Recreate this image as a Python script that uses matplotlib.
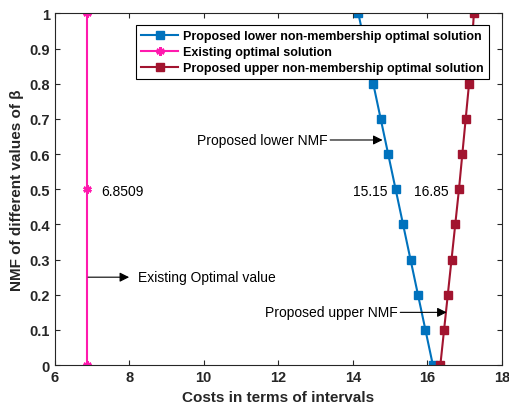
import numpy as np
import matplotlib
matplotlib.use("Agg")
import matplotlib.pyplot as plt

matplotlib.rcParams.update({'font.family': ['Liberation Sans', 'DejaVu Sans'], 'font.size': 10})

beta = [0, 0.1, 0.2, 0.3, 0.4, 0.5, 0.6, 0.7, 0.8, 0.9, 1.0]
lower_cost = [16.15, 15.95, 15.75, 15.55, 15.35, 15.15, 14.95, 14.75, 14.55, 14.35, 14.15]
upper_cost = [16.35, 16.45, 16.55, 16.65, 16.75, 16.85, 16.94, 17.03, 17.12, 17.19, 17.25]
exist_beta = [0, 0.5, 1.0]
exist_cost = [6.87, 6.87, 6.87]

labels = ["Proposed lower non-membership optimal solution",
          "Existing optimal solution",
          "Proposed upper non-membership optimal solution"]

blue = "#0072BD"
pink = "#FF1AAE"
red = "#A2142F"

fig = plt.figure(figsize=(5.1, 4.1), dpi=100)
ax = fig.add_axes([0.107, 0.107, 0.877, 0.858])

ax.plot(lower_cost, beta, color=blue, marker='s', markersize=5.5, lw=1.5, label=labels[0])
ax.plot(exist_cost, exist_beta, color=pink, marker=(6, 2, 0), markersize=6, mew=1.8,
        lw=1.5, label=labels[1])
ax.plot(upper_cost, beta, color=red, marker='s', markersize=5.5, lw=1.5, label=labels[2])

ax.set_xlim(6, 18)
ax.set_ylim(0, 1)
ax.set_xticks(np.arange(6, 19, 2))
ax.set_yticks(np.arange(0, 1.01, 0.1))
ax.set_yticklabels(["0", "0.1", "0.2", "0.3", "0.4", "0.5", "0.6", "0.7", "0.8", "0.9", "1"])
ax.tick_params(direction='in', top=True, right=True, labelsize=10.5, color="#262626")
for lab in ax.get_xticklabels() + ax.get_yticklabels():
    lab.set_fontweight('bold')
    lab.set_color("#262626")
for s in ax.spines.values():
    s.set_color("#262626")

ax.set_xlabel("Costs in terms of intervals", fontweight='bold', fontsize=11, color="#262626")
ax.set_ylabel("NMF of different values of β", fontweight='bold', fontsize=11, color="#262626")

arrow = dict(arrowstyle='-|>', color='black', lw=0.8, mutation_scale=14, shrinkA=0, shrinkB=0)
ax.annotate("", xy=(8.0, 0.25), xytext=(6.9, 0.25), arrowprops=arrow)
ax.text(8.25, 0.25, "Existing Optimal value", fontsize=10, va='center')
ax.annotate("Proposed lower NMF", xy=(14.8, 0.64), xytext=(13.32, 0.64),
            fontsize=10, va='center', ha='right', arrowprops=arrow)
ax.annotate("Proposed upper NMF", xy=(16.52, 0.15), xytext=(15.2, 0.15),
            fontsize=10, va='center', ha='right', arrowprops=arrow)
ax.text(7.24, 0.495, "6.8509", fontsize=10, va='center')
ax.text(14.93, 0.495, "15.15", fontsize=10, va='center', ha='right')
ax.text(16.57, 0.495, "16.85", fontsize=10, va='center', ha='right')

leg = ax.legend(loc='upper right', bbox_to_anchor=(0.985, 0.985), fancybox=False,
                edgecolor='black', framealpha=1, prop={'weight': 'bold', 'size': 9},
                handlelength=3.0, borderpad=0.4, labelspacing=0.32, handletextpad=0.4)
leg.get_frame().set_linewidth(0.8)

fig.savefig("out.png", dpi=100)
